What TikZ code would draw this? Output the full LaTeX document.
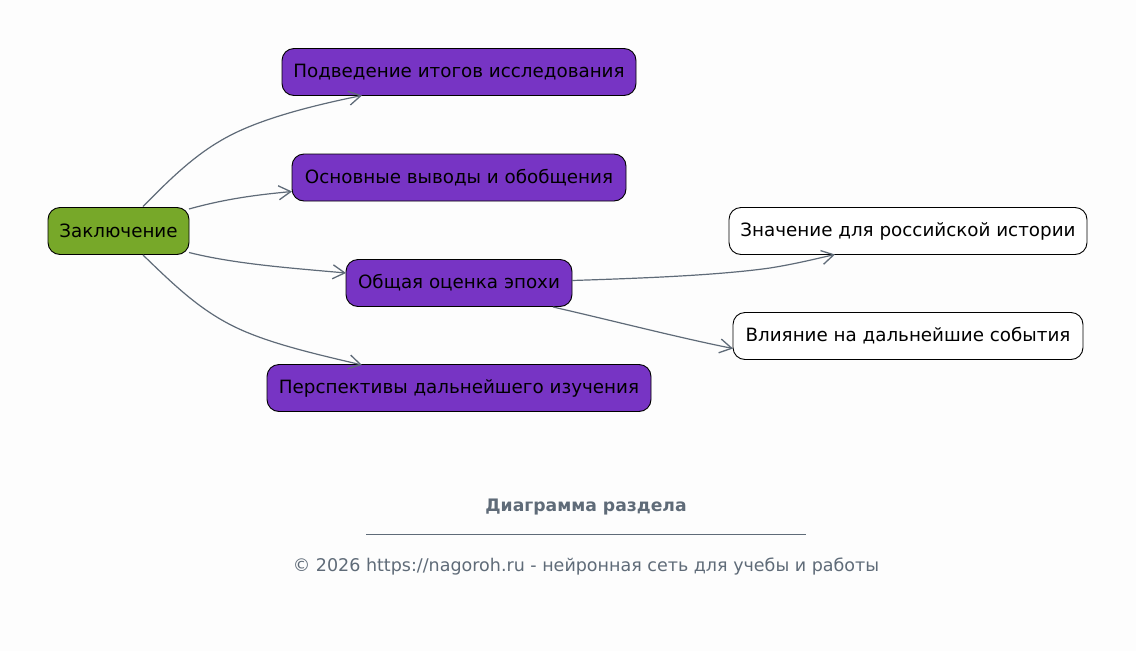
\documentclass[tikz,border=0pt]{standalone}
\usepackage{fontspec}
\setmainfont{DejaVu Sans}
\usetikzlibrary{arrows.meta}
\definecolor{bg}{HTML}{FDFDFD}
\definecolor{purp}{HTML}{7734C4}
\definecolor{grn}{HTML}{77A829}
\definecolor{edge}{HTML}{5F6B78}
\tikzset{
  box/.style={draw=black, line width=0.9pt, rounded corners=12pt, minimum height=47pt, inner sep=0pt, font=\fontsize{18.3}{20}\selectfont, text=black},
  pbox/.style={box, fill=purp},
  gbox/.style={box, fill=grn},
  wbox/.style={box, fill=white},
  conn/.style={draw=edge, line width=1.2pt, -{Straight Barb[length=12pt,width=14pt,line width=1.3pt]}},
}
\begin{document}
\begin{tikzpicture}[x=1pt,y=-1pt]
\fill[bg] (0,0) rectangle (1136,651);
\useasboundingbox (0,0) rectangle (1136,651);
\node[gbox, minimum width=141pt] (z) at (118.5,231) {Заключение};
\node[pbox, minimum width=354pt] (a) at (459,72) {Подведение итогов исследования};
\node[pbox, minimum width=334pt] (b) at (459,177.5) {Основные выводы и обобщения};
\node[pbox, minimum width=226pt] (c) at (459,283) {Общая оценка эпохи};
\node[pbox, minimum width=384pt] (d) at (459,388) {Перспективы дальнейшего изучения};
\node[wbox, minimum width=358pt] (e) at (908,231) {Значение для российской истории};
\node[wbox, minimum width=350pt] (f) at (908,336) {Влияние на дальнейшие события};

\coordinate (z1) at (143,206.5);
\coordinate (z2) at (189,209);
\coordinate (z3) at (189,252.5);
\coordinate (z4) at (143,255);
\coordinate (a1) at (362,95.5);
\coordinate (b1) at (292,191.5);
\coordinate (c1) at (346,273);
\coordinate (d1) at (362,365);
\coordinate (c2) at (572,280.5);
\coordinate (c3) at (553,307);
\coordinate (e1) at (835,254.5);
\coordinate (f1) at (733,348.5);

\draw[conn] (z1) .. controls (175,174) and (200,150) .. (235,133) .. controls (270,116) and (320,104) .. (a1);
\draw[conn] (z2) .. controls (225,199) and (255,195) .. (b1);
\draw[conn] (z3) .. controls (235,264) and (290,268) .. (c1);
\draw[conn] (z4) .. controls (175,286) and (200,310) .. (235,327) .. controls (270,344) and (320,355) .. (d1);
\draw[conn] (c2) .. controls (650,278) and (720,275) .. (770,268) .. controls (795,264) and (815,259) .. (e1);
\draw[conn] (c3) .. controls (610,320) and (680,338) .. (f1);

\node[font=\bfseries\fontsize{17.2}{19}\selectfont, text=edge] (t) at (586,507) {Диаграмма раздела};
\draw[edge, line width=0.5pt] (366,534.5) -- (806,534.5);
\node[font=\fontsize{17.5}{19}\selectfont, text=edge] (cpy) at (586,566.5) {© 2026 https://nagoroh.ru - нейронная сеть для учебы и работы};
\end{tikzpicture}
\end{document}
